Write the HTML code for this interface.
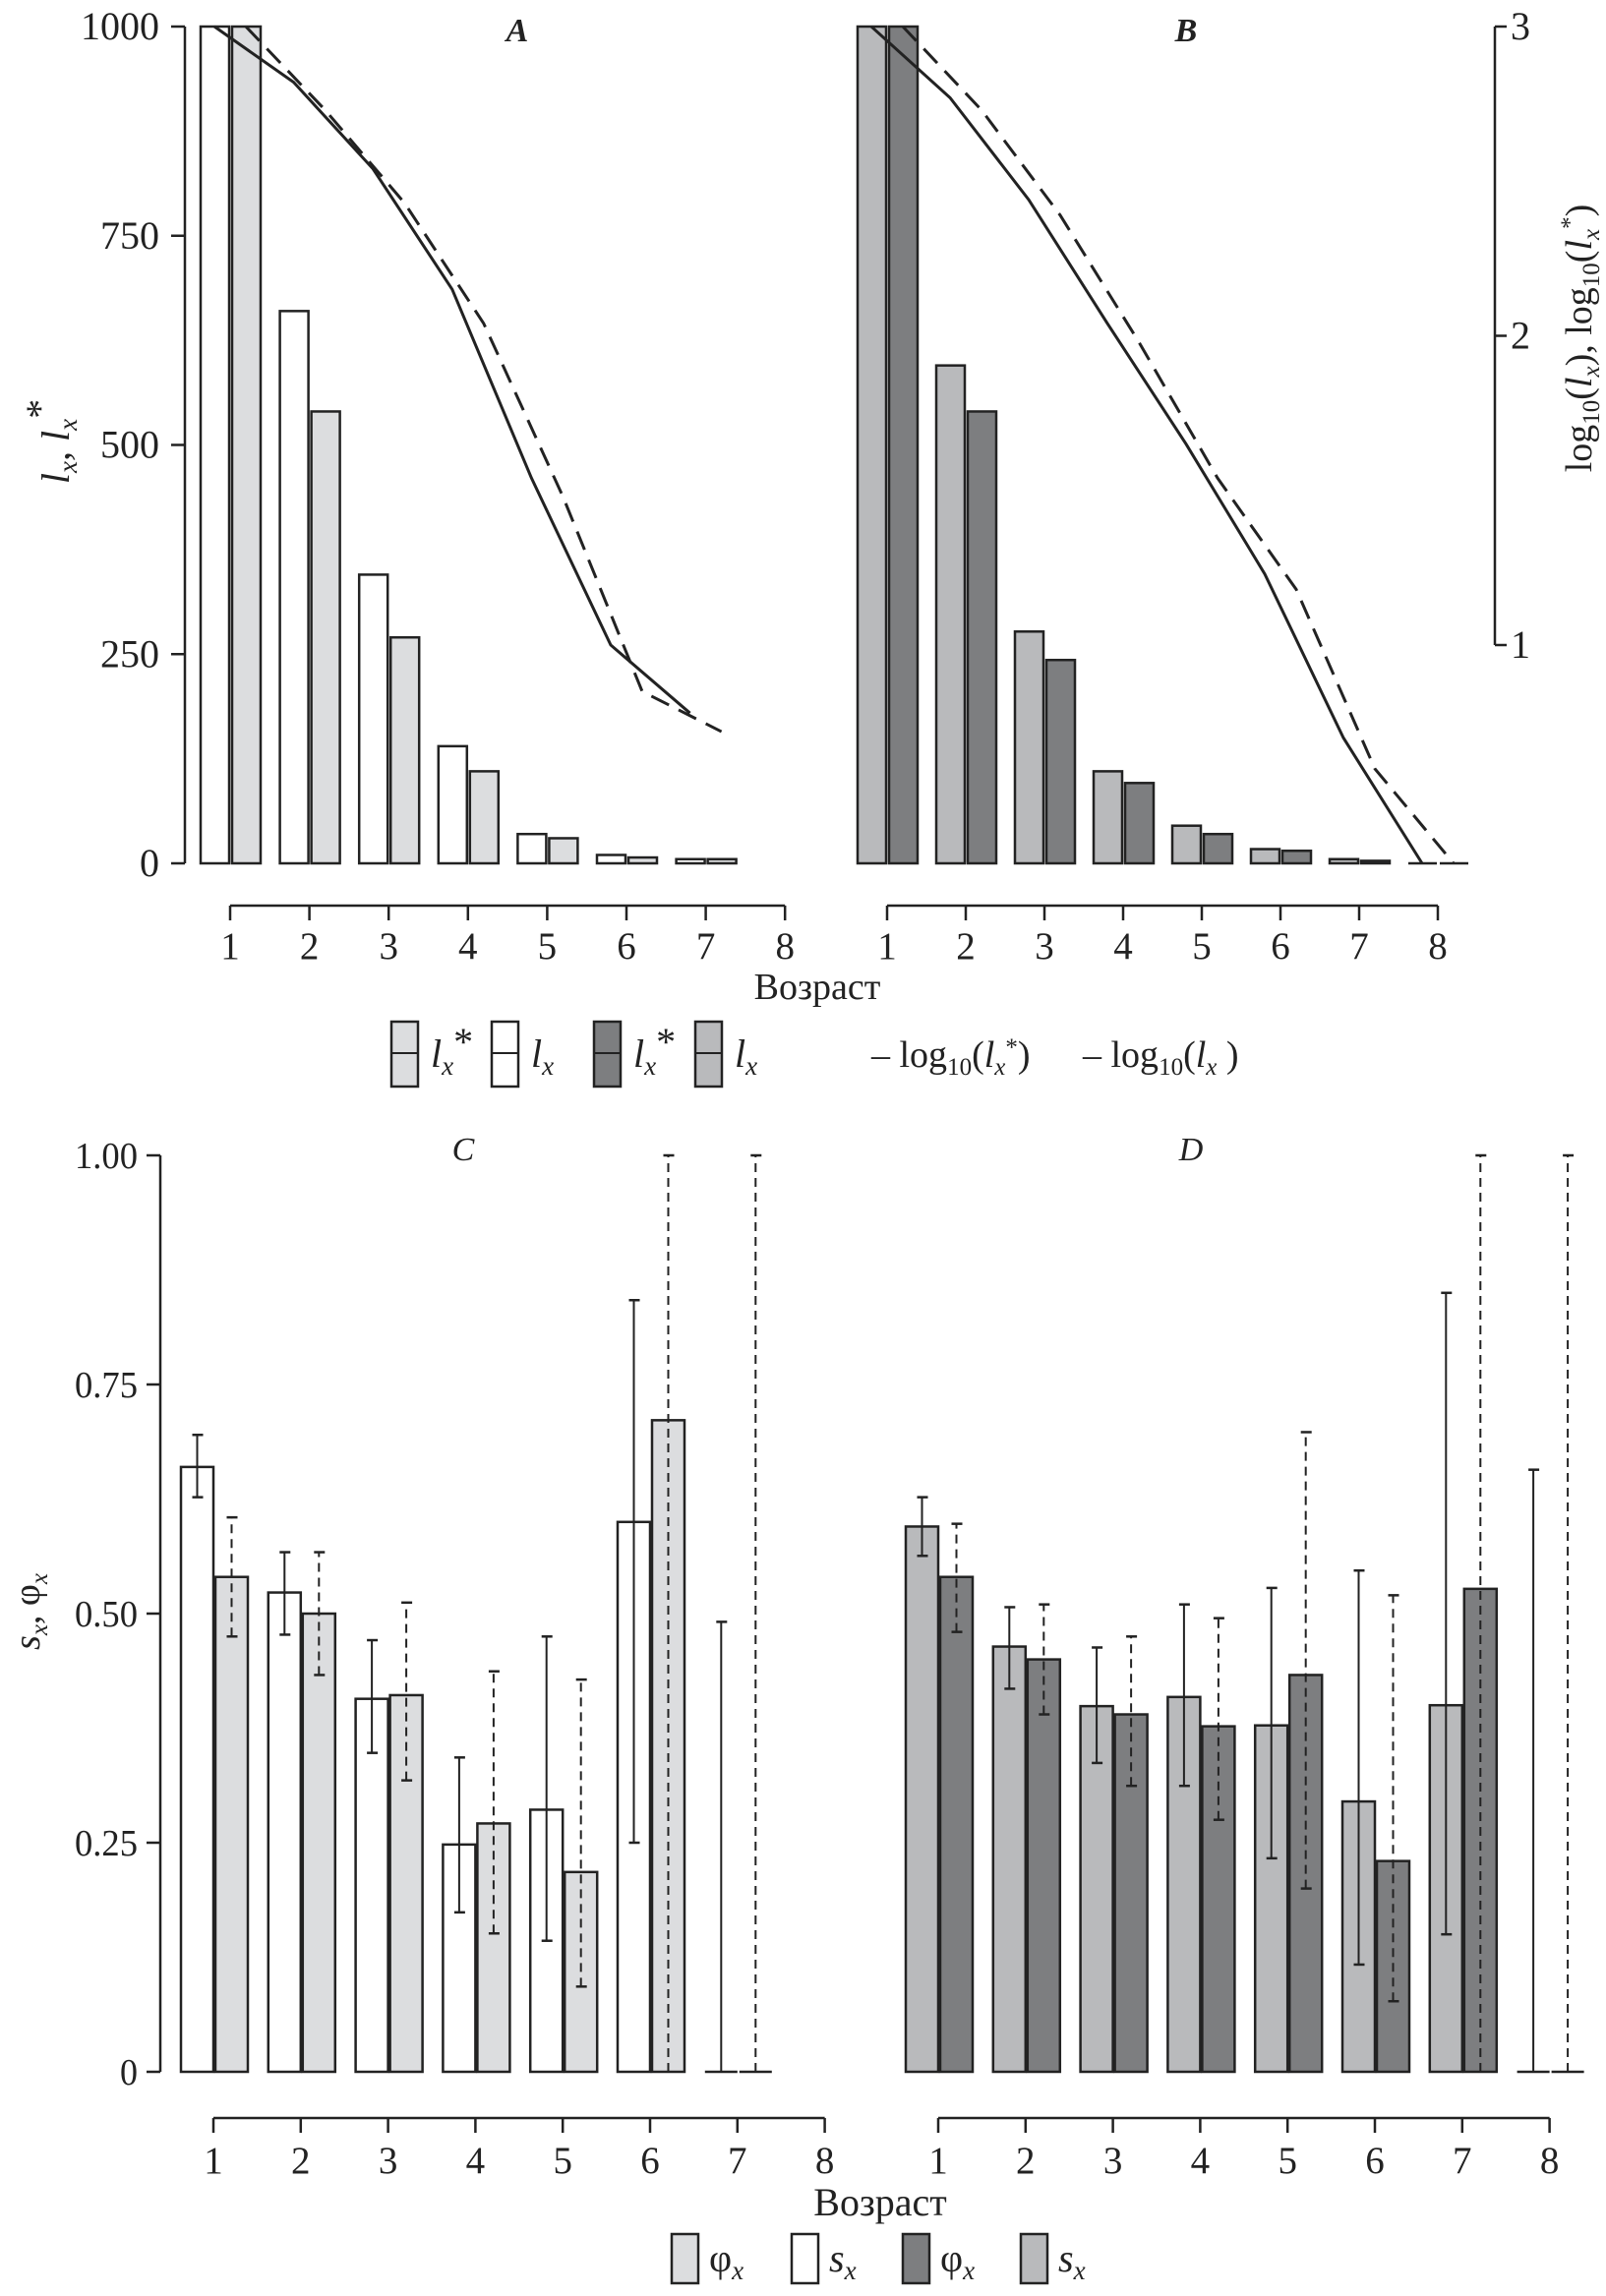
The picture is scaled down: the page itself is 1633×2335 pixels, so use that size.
<!DOCTYPE html>
<html><head><meta charset="utf-8"><style>
html,body{margin:0;padding:0;background:#fff}
svg{display:block;font-family:"Liberation Serif",serif}
</style></head><body>
<svg id="fig" width="1633" height="2335" viewBox="0 0 1633 2335" xmlns="http://www.w3.org/2000/svg">
<rect x="0" y="0" width="1633" height="2335" fill="#fff"/>
<g id="topgrp"></g>
<g id="botgrp"></g>
</svg>
<script>
// ---- data ----
const agesTop = [1,2,3,4,5,6,7,8];
const ticksTopY = [0,250,500,750,1000];
const ticksLog = [1,2,3];
const lxA = [1000,660,345,140,35,10,5];
const lxStarA = [1000,540,270,110,30,7,5];
const logLxA = [3,2.82,2.54,2.15,1.54,1.0,0.78];
const logLxStarA = [3,2.73,2.43,2.04,1.48,0.85,0.72];
const lxB = [1000,595,277,110,45,17,5,1];
const lxStarB = [1000,540,243,96,35,15,3,1];
const logLxB = [3,2.77,2.44,2.04,1.65,1.23,0.70,0.29];
const logLxStarB = [3,2.73,2.39,1.98,1.54,1.18,0.60,0.29];

const ticksBotY = [0,0.25,0.5,0.75,1.0];
const tickLabelsBotY = ["0","0.25","0.50","0.75","1.00"];
const sxC = [0.66,0.523,0.407,0.248,0.286,0.60,0];
const sxCLo = [0.627,0.477,0.348,0.174,0.143,0.25,0];
const sxCHi = [0.695,0.567,0.471,0.343,0.475,0.842,0.491];
const phiC = [0.54,0.50,0.411,0.271,0.218,0.711,0];
const phiCLo = [0.475,0.433,0.318,0.151,0.093,0,0];
const phiCHi = [0.605,0.567,0.512,0.437,0.428,1.0,1.0];
const sxD = [0.595,0.464,0.399,0.409,0.378,0.295,0.40,0];
const sxDLo = [0.563,0.418,0.337,0.312,0.233,0.117,0.15,0];
const sxDHi = [0.627,0.507,0.463,0.51,0.528,0.547,0.85,0.657];
const phiD = [0.54,0.45,0.39,0.377,0.433,0.23,0.527,0];
const phiDLo = [0.48,0.39,0.312,0.275,0.2,0.077,0,0];
const phiDHi = [0.598,0.51,0.475,0.495,0.698,0.52,1.0,1.0];

const NS = "http://www.w3.org/2000/svg";
const C_WHITE="#ffffff", C_LIGHT="#dcdddf", C_MID="#b9babc", C_DARK="#7d7e80", INK="#222";
function mk(tag, attrs, parent){const e=document.createElementNS(NS,tag);for(const k in attrs)e.setAttribute(k,attrs[k]);parent.appendChild(e);return e;}
const gTop=document.getElementById('topgrp'), gBot=document.getElementById('botgrp');

// scales
const yTop = v => 878 - v/1000*851;
const yLog = v => Math.min(878, 27 + (3-v)*314.5);
const xA = a => 234 + (a-1)*80.6;
const xB = a => 902 + (a-1)*80;
const yBot = v => 2107 - v*932;
const xC = a => 217 + (a-1)*88.8;
const xD = a => 954 + (a-1)*88.8;

function bar(parent, x0, x1, y, y0, fill, name){
  let e;
  if (Math.abs(y0-y) < 1.5) {
    e = mk('line',{x1:x0,x2:x1,y1:y0,y2:y0,stroke:INK,'stroke-width':2.5},parent);
  } else {
    e = mk('rect',{x:x0,y:y,width:x1-x0,height:y0-y,fill:fill,stroke:INK,'stroke-width':2.5},parent);
  }
  
  
}
function text(parent, x, y, s, size, anchor, name, extra){
  const t = mk('text',Object.assign({x:x,y:y,'font-size':size,'text-anchor':anchor||'middle',fill:INK},extra||{}),parent);
  t.textContent = s;
  
  
  return t;
}
function xaxis(parent, xf, y, labelY, name){
  const g = mk('g',{},parent);
  
  
  mk('line',{x1:xf(1),x2:xf(8),y1:y,y2:y,stroke:INK,'stroke-width':2.5},g);
  agesTop.forEach(a=>{
    mk('line',{x1:xf(a),x2:xf(a),y1:y,y2:y+15,stroke:INK,'stroke-width':2.5},g);
    text(g, xf(a), labelY, String(a), 39, 'middle', 'x-tick-label');
  });
}
function polyline(parent, xs, ys, dashed, name){
  const pts = xs.map((x,i)=>x+','+ys[i]).join(' ');
  const p = mk('polyline',{points:pts,fill:'none',stroke:INK,'stroke-width':3,'stroke-dasharray':dashed?'20,11':'none'},parent);
  
  
}

// ---- Panel A ----
const gA = mk('g',{},gTop);


mk('line',{x1:188,x2:188,y1:27,y2:878,stroke:INK,'stroke-width':2.5},gA);
ticksTopY.forEach(v=>{
  mk('line',{x1:174,x2:188,y1:yTop(v),y2:yTop(v),stroke:INK,'stroke-width':2.5},gA);
  text(gA, 162, yTop(v)+13, String(v), 40, 'end', 'y-tick-label');
});
lxA.forEach((v,i)=>{const x=xA(agesTop[i]); bar(gA,x-30,x-1,yTop(v),878,C_WHITE,'bar-lx-a');});
lxStarA.forEach((v,i)=>{const x=xA(agesTop[i]); bar(gA,x+2,x+31,yTop(v),878,C_LIGHT,'bar-lxstar-a');});
polyline(gA, logLxA.map((v,i)=>xA(agesTop[i])-16), logLxA.map(yLog), false, 'line-log-lx-a');
polyline(gA, logLxStarA.map((v,i)=>xA(agesTop[i])+16), logLxStarA.map(yLog), true, 'line-log-lxstar-a');
xaxis(gA, xA, 921, 975, 'x-axis-a');
text(gA, 526, 42, 'A', 34, 'middle', 'panel-title-a', {'font-style':'italic','font-weight':'bold'});
const yl = mk('text',{transform:'translate(70,449) rotate(-90)','font-size':40,'text-anchor':'middle',fill:INK,'font-style':'italic'},gA);


yl.innerHTML = 'l<tspan font-size="27" dy="8">x</tspan><tspan dy="-8">, l</tspan><tspan font-size="27" dy="8">x</tspan><tspan dy="-24" font-style="normal">*</tspan>';

// ---- Panel B ----
const gB = mk('g',{},gTop);


lxB.forEach((v,i)=>{const x=xB(agesTop[i]); bar(gB,x-30,x-1,yTop(v),878,C_MID,'bar-lx-b');});
lxStarB.forEach((v,i)=>{const x=xB(agesTop[i]); bar(gB,x+2,x+31,yTop(v),878,C_DARK,'bar-lxstar-b');});
polyline(gB, logLxB.map((v,i)=>xB(agesTop[i])-16), logLxB.map(yLog), false, 'line-log-lx-b');
polyline(gB, logLxStarB.map((v,i)=>xB(agesTop[i])+16), logLxStarB.map(yLog), true, 'line-log-lxstar-b');
xaxis(gB, xB, 921, 975, 'x-axis-b');
text(gB, 1206, 42, 'B', 34, 'middle', 'panel-title-b', {'font-style':'italic','font-weight':'bold'});
mk('line',{x1:1520,x2:1520,y1:yLog(3),y2:yLog(1),stroke:INK,'stroke-width':2.5},gB);
ticksLog.forEach(v=>{
  mk('line',{x1:1520,x2:1532,y1:yLog(v),y2:yLog(v),stroke:INK,'stroke-width':2.5},gB);
  text(gB, 1536, yLog(v)+13, String(v), 40, 'start', 'right-y-tick-label');
});
const yr = mk('text',{transform:'translate(1618,344) rotate(-90)','font-size':38,'text-anchor':'middle',fill:INK},gB);


yr.innerHTML = 'log<tspan font-size="25" dy="8">10</tspan><tspan dy="-8">(</tspan><tspan font-style="italic">l</tspan><tspan font-size="25" dy="8" font-style="italic">x</tspan><tspan dy="-8">), log</tspan><tspan font-size="25" dy="8">10</tspan><tspan dy="-8">(</tspan><tspan font-style="italic">l</tspan><tspan font-size="25" dy="8" font-style="italic">x</tspan><tspan font-size="25" dy="-22">*</tspan><tspan dy="14">)</tspan>';

text(gTop, 831, 1016, 'Возраст', 38, 'middle', 'x-axis-title-top');

// top legend
const legT = [[398,C_LIGHT,'lstar'],[500,C_WHITE,'l'],[604,C_DARK,'lstar'],[707,C_MID,'l']];
legT.forEach((d,i)=>{
  const g = mk('g',{},gTop);
  
  
  mk('rect',{x:d[0],y:1039,width:27,height:66,fill:d[1],stroke:INK,'stroke-width':2.5},g);
  mk('line',{x1:d[0],x2:d[0]+27,y1:1071,y2:1071,stroke:INK,'stroke-width':2},g);
  const t = mk('text',{x:d[0]+40,y:1085,'font-size':40,'font-style':'italic',fill:INK},g);
  t.innerHTML = d[2]==='lstar' ? 'l<tspan font-size="27" dy="8">x</tspan><tspan dy="-20" font-style="normal">*</tspan>' : 'l<tspan font-size="27" dy="8">x</tspan>';
});
const lg1 = mk('text',{x:886,y:1085,'font-size':38,fill:INK},gTop);


lg1.innerHTML = '– log<tspan font-size="25" dy="8">10</tspan><tspan dy="-8">(</tspan><tspan font-style="italic">l</tspan><tspan font-size="25" dy="8" font-style="italic">x</tspan><tspan font-size="25" dy="-20">*</tspan><tspan dy="12">)</tspan>';
const lg2 = mk('text',{x:1101,y:1085,'font-size':38,fill:INK},gTop);


lg2.innerHTML = '– log<tspan font-size="25" dy="8">10</tspan><tspan dy="-8">(</tspan><tspan font-style="italic">l</tspan><tspan font-size="25" dy="8" font-style="italic">x</tspan><tspan dy="-8"> )</tspan>';

// ---- Bottom panels ----
function errbar(parent, x, lo, hi, dashed, name){
  const g = mk('g',{},parent);
  
  
  const da = dashed ? '9,6' : 'none';
  mk('line',{x1:x,x2:x,y1:yBot(lo),y2:yBot(hi),stroke:INK,'stroke-width':2,'stroke-dasharray':da},g);
  [lo,hi].forEach(v=>{ if(v>0) mk('line',{x1:x-5,x2:x+6,y1:yBot(v),y2:yBot(v),stroke:INK,'stroke-width':2.5},g); });
}
const gC = mk('g',{},gBot);


mk('line',{x1:163,x2:163,y1:yBot(1),y2:yBot(0),stroke:INK,'stroke-width':2.5},gC);
ticksBotY.forEach((v,i)=>{
  mk('line',{x1:149,x2:163,y1:yBot(v),y2:yBot(v),stroke:INK,'stroke-width':2.5},gC);
  text(gC, 140, yBot(v)+13, tickLabelsBotY[i], 38, 'end', 'y-tick-label', {'textLength':tickLabelsBotY[i].length>1?64:18,'lengthAdjust':'spacingAndGlyphs'});
});
sxC.forEach((v,i)=>{const x=xC(i+1); bar(gC,x-33,x,yBot(v),yBot(0),C_WHITE,'bar-sx-c'); errbar(gC,x-16.5,sxCLo[i],sxCHi[i],false,'errorbar-sx-c');});
phiC.forEach((v,i)=>{const x=xC(i+1); bar(gC,x+2,x+35,yBot(v),yBot(0),C_LIGHT,'bar-phi-c'); errbar(gC,x+18.5,phiCLo[i],phiCHi[i],true,'errorbar-phi-c');});
xaxis(gC, xC, 2154, 2210, 'x-axis-c');
text(gC, 471, 1180, 'C', 34, 'middle', 'panel-title-c', {'font-style':'italic'});
const yc = mk('text',{transform:'translate(40,1639) rotate(-90)','font-size':38,'text-anchor':'middle',fill:INK},gC);


yc.innerHTML = '<tspan font-style="italic">s</tspan><tspan font-size="25" dy="8" font-style="italic">x</tspan><tspan dy="-8">, φ</tspan><tspan font-size="25" dy="8" font-style="italic">x</tspan>';

const gD = mk('g',{},gBot);


sxD.forEach((v,i)=>{const x=xD(i+1); bar(gD,x-33,x,yBot(v),yBot(0),C_MID,'bar-sx-d'); errbar(gD,x-16.5,sxDLo[i],sxDHi[i],false,'errorbar-sx-d');});
phiD.forEach((v,i)=>{const x=xD(i+1); bar(gD,x+2,x+35,yBot(v),yBot(0),C_DARK,'bar-phi-d'); errbar(gD,x+18.5,phiDLo[i],phiDHi[i],true,'errorbar-phi-d');});
xaxis(gD, xD, 2154, 2210, 'x-axis-d');
text(gD, 1211, 1180, 'D', 34, 'middle', 'panel-title-d', {'font-style':'italic'});

text(gBot, 895, 2253, 'Возраст', 40, 'middle', 'x-axis-title-bottom');
const legB = [[683,C_LIGHT,'φ',false],[805,C_WHITE,'s',true],[918,C_DARK,'φ',false],[1038,C_MID,'s',true]];
legB.forEach(d=>{
  const g = mk('g',{},gBot);
  
  
  mk('rect',{x:d[0],y:2272,width:27,height:50,fill:d[1],stroke:INK,'stroke-width':2.5},g);
  const t = mk('text',{x:d[0]+38,y:2310,'font-size':40,fill:INK},g);
  t.innerHTML = (d[3]?'<tspan font-style="italic">s</tspan>':'φ')+'<tspan font-size="27" dy="8" font-style="italic">x</tspan>';
});
</script>
</body></html>
